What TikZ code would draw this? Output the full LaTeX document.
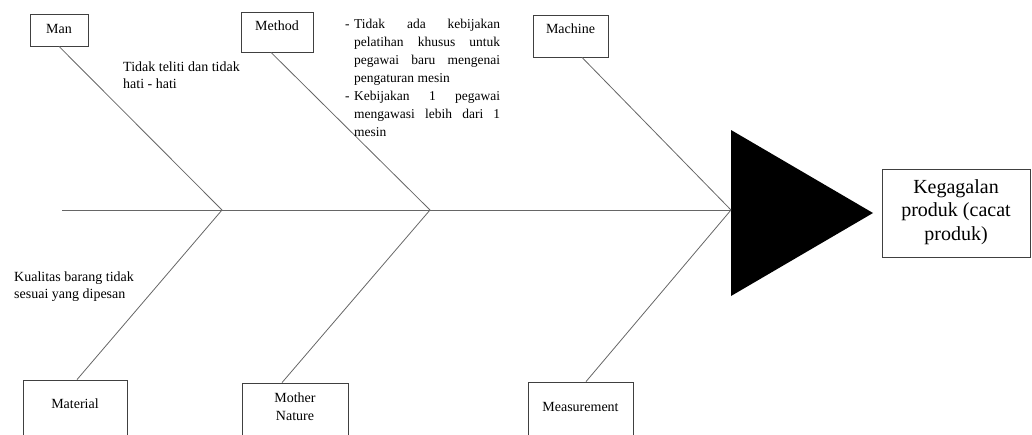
\documentclass[tikz,border=0pt]{standalone}
\usepackage{fontspec}
\setmainfont{Liberation Serif}
\newcommand{\jline}[1]{\makebox[146pt][s]{#1}}
\newcommand{\dashmark}{\makebox[9pt][l]{-}}
\newcommand{\noDash}{\hspace*{9pt}}
\begin{document}
\begin{tikzpicture}[x=1pt,y=-1pt,
  box/.style={draw=black!75, line width=0.8pt, inner sep=0pt},
  bone/.style={draw=black!60, line width=0.8pt},
  lbl/.style={font=\fontsize{14}{16}\selectfont, inner sep=0pt, anchor=base},
  cause/.style={font=\fontsize{14}{16.5}\selectfont, inner sep=0pt, anchor=north west, align=left}
]
\useasboundingbox (0,0) rectangle (1032,434);
\clip (0,0) rectangle (1032,434);
% boxes
\node[box, minimum width=58, minimum height=32] (man) at (59,30) {};
\node[box, minimum width=72, minimum height=40] (method) at (277,32) {};
\node[box, minimum width=75, minimum height=42] (machine) at (570.5,36) {};
\node[box, minimum width=104, minimum height=80] (material) at (75,420) {};
\node[box, minimum width=106, minimum height=80] (mother) at (295,423) {};
\node[box, minimum width=105, minimum height=80] (measure) at (580.5,422) {};
\node[box, minimum width=148, minimum height=88] (effect) at (956,213) {};
% box labels
\node[lbl] (tman) at (59,33) {Man};
\node[lbl] (tmethod) at (277,30) {Method};
\node[lbl] (tmachine) at (570.5,33) {Machine};
\node[lbl] (tmaterial) at (75,408) {Material};
\node[lbl, align=center, font=\fontsize{14}{18}\selectfont, anchor=north] (tmother) at (295,393) {Mother\\Nature};
\node[lbl] (tmeasure) at (580.5,411) {Measurement};
\node[font=\fontsize{20}{23.5}\selectfont, align=center, inner sep=0pt] (teffect) at (956,212) {Kegagalan\\produk (cacat\\produk)};
% spine and head
\coordinate (tail) at (62,210);
\coordinate (j1) at (222,210);
\coordinate (j2) at (430,210);
\coordinate (j3) at (731,210);
\fill[black] (731,130) -- (873,213) -- (731,296) -- cycle;
\draw[bone] (tail) -- (j3);
% bones
\draw[bone] (man.south) -- (j1);
\draw[bone] ([xshift=-6pt]method.south) -- (j2);
\draw[bone] ([xshift=11.5pt]machine.south) -- (j3);
\draw[bone] ([xshift=2pt]material.north) -- (j1);
\draw[bone] ([xshift=-13pt]mother.north) -- (j2);
\draw[bone] ([xshift=5.5pt]measure.north) -- (j3);
% causes
\node[cause] (cman) at (123,62) {Tidak teliti dan tidak\\hati - hati};
\node[cause] (cmat) at (14,272) {Kualitas barang tidak\\sesuai yang dipesan};
\node[anchor=north west, inner sep=0pt, align=left, font=\fontsize{13.5}{18}\selectfont] (cmeth) at (345,19) {%
\dashmark\jline{Tidak ada kebijakan}\\
\noDash\jline{pelatihan khusus untuk}\\
\noDash\jline{pegawai baru mengenai}\\
\noDash pengaturan mesin\\
\dashmark\jline{Kebijakan 1 pegawai}\\
\noDash\jline{mengawasi lebih dari 1}\\
\noDash mesin};
\end{tikzpicture}
\end{document}
